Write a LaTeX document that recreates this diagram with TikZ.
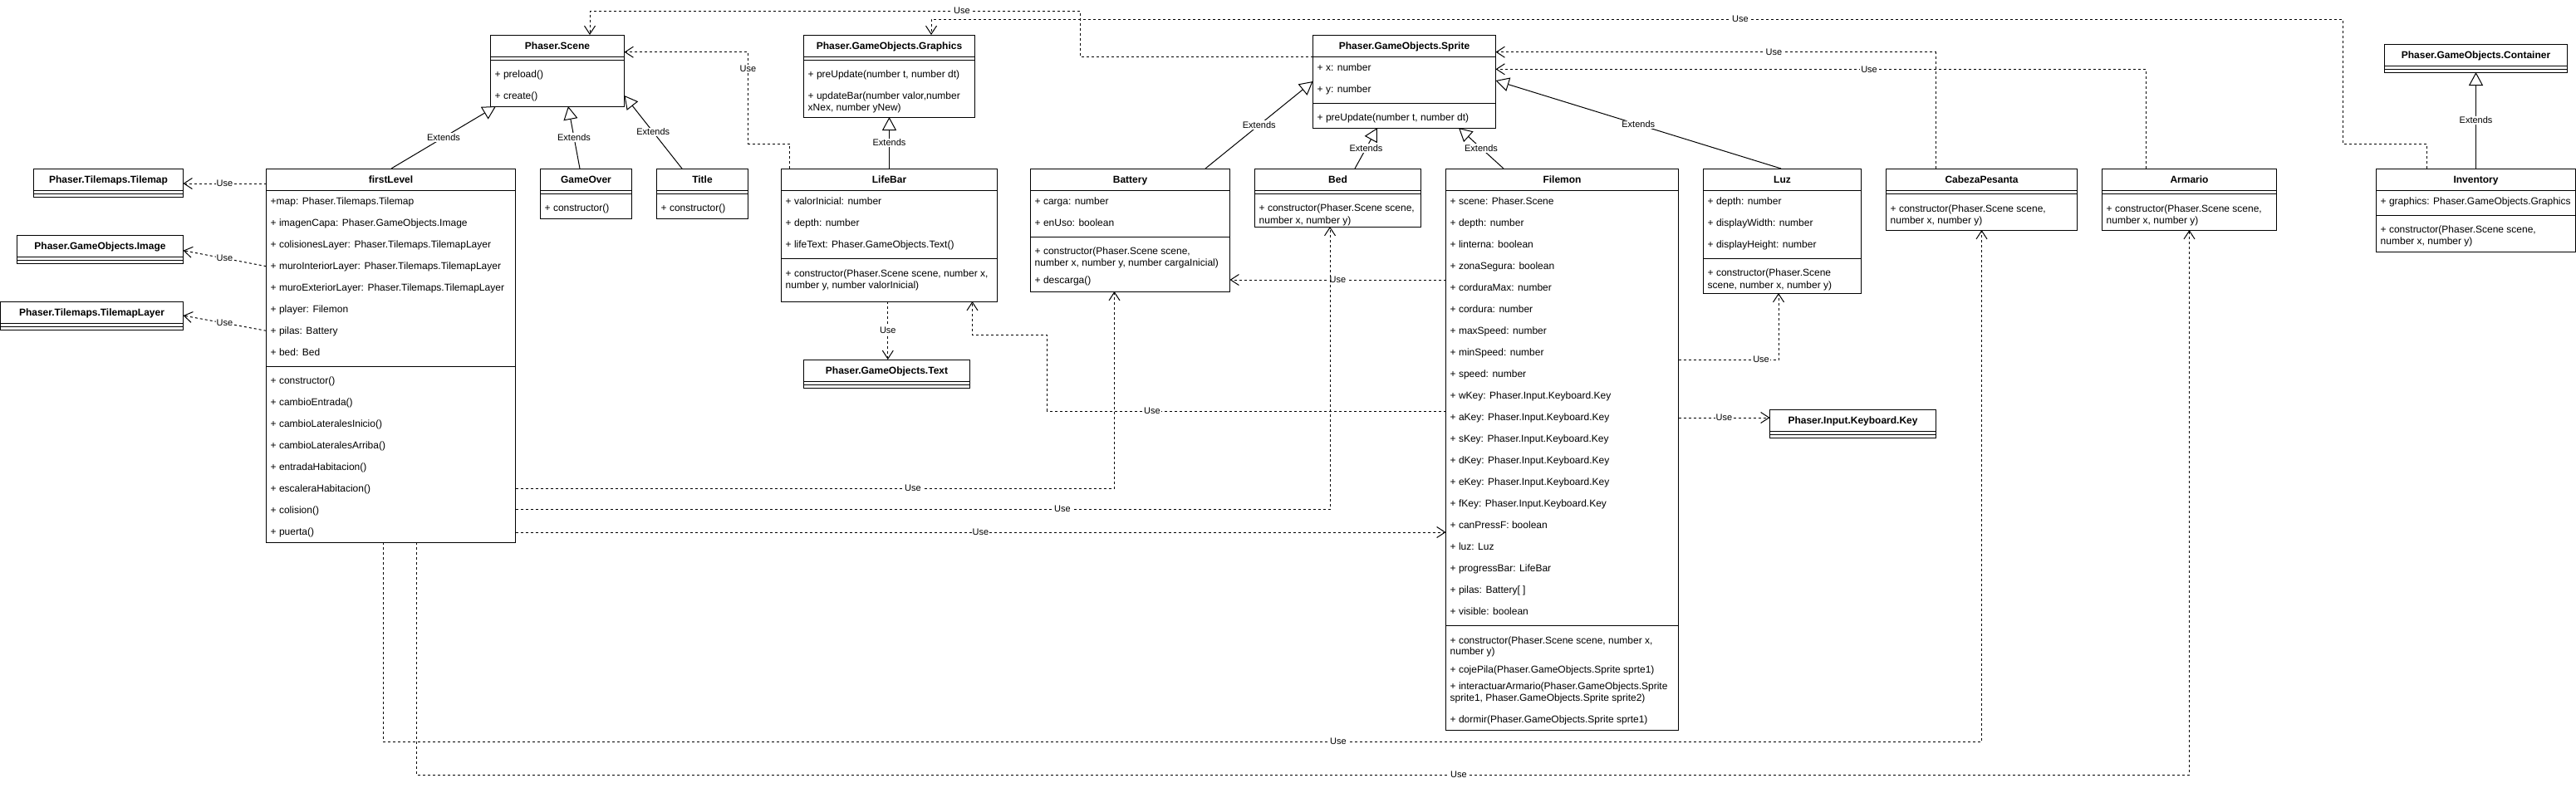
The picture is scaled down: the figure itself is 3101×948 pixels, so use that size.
\documentclass[tikz,border=0pt]{standalone}
\usepackage{fontspec}
\setmainfont{Liberation Sans}
\usetikzlibrary{arrows.meta,calc}
\newcommand\umlcls[5]{\node[box, minimum width=#4pt, minimum height=#5pt] (#1) at (#2,#3) {};}
\newcommand\umlhd[2]{\node[hd] (#1-name) at ($(#1.north)+(0,17)$) {#2};}
\newcommand\umlline[2]{\draw[sepline] ($(#1.north west)+(0,#2)$) -- ($(#1.north east)+(0,#2)$);}
\newcommand\umlrow[4]{\node[attr] (#1) at (#2,#3+4) {#4};}
\begin{document}
\begin{tikzpicture}[x=1pt,y=-1pt,
  box/.style={draw, line width=1pt, rectangle, inner sep=0pt, outer sep=0pt, anchor=north west},
  hd/.style={font=\fontsize{12}{14}\selectfont\bfseries, inner sep=0pt, anchor=base},
  attr/.style={font=\fontsize{12}{14}\selectfont, inner sep=0pt, anchor=base west},
  lbl/.style={font=\fontsize{11}{13}\selectfont, fill=white, inner sep=1pt},
  sepline/.style={line width=1pt},
  use/.style={line width=1pt, dash pattern=on 3pt off 3pt, -{Straight Barb[length=10pt,width=13pt]}},
  ext/.style={line width=1pt, -{Triangle[open,length=16pt,width=17pt,fill=white]}}]
\fill[white] (0,0) rectangle (3101,948);
\useasboundingbox (0,0) rectangle (3101,948);

% ---------- Phaser.Scene
\umlcls{sc}{590.5}{42}{161}{86}
\umlhd{sc}{Phaser.Scene}
\umlline{sc}{26}\umlline{sc}{30}
\umlrow{sc1}{595.5}{89}{+ preload()}
\umlrow{sc2}{595.5}{115}{+ create()}

% ---------- Phaser.GameObjects.Graphics
\umlcls{gr}{967.5}{42}{206}{99}
\umlhd{gr}{Phaser.GameObjects.Graphics}
\umlline{gr}{26}\umlline{gr}{30}
\umlrow{gr1}{972.5}{89}{+ preUpdate(number t, number dt)}
\umlrow{gr2}{972.5}{115}{+ updateBar(number valor,number}
\umlrow{gr3}{972.5}{129}{xNex, number yNew)}

% ---------- Phaser.GameObjects.Sprite
\umlcls{spr}{1580.5}{42}{220}{112}
\umlhd{spr}{Phaser.GameObjects.Sprite}
\umlline{spr}{26}\umlline{spr}{82}
\umlrow{spr1}{1585.5}{81}{+ x: number}
\umlrow{spr2}{1585.5}{107}{+ y: number}
\umlrow{spr3}{1585.5}{141}{+ preUpdate(number t, number dt)}

% ---------- Container
\umlcls{cont}{2870.5}{53}{220}{34}
\umlhd{cont}{Phaser.GameObjects.Container}
\umlline{cont}{26}\umlline{cont}{30}

% ---------- left externals
\umlcls{tm}{40.5}{203}{180}{34}
\umlhd{tm}{Phaser.Tilemaps.Tilemap}
\umlline{tm}{26}\umlline{tm}{30}
\umlcls{img}{20.5}{283}{200}{34}
\umlhd{img}{Phaser.GameObjects.Image}
\umlline{img}{26}\umlline{img}{30}
\umlcls{tml}{0.5}{363}{220}{34}
\umlhd{tml}{Phaser.Tilemaps.TilemapLayer}
\umlline{tml}{26}\umlline{tml}{30}

% ---------- firstLevel
\umlcls{fl}{320.5}{203}{300}{450}
\umlhd{fl}{firstLevel}
\umlline{fl}{26}\umlline{fl}{238}
\foreach \t [count=\i from 0] in {{+map: Phaser.Tilemaps.Tilemap},{+ imagenCapa: Phaser.GameObjects.Image},{+ colisionesLayer: Phaser.Tilemaps.TilemapLayer},{+ muroInteriorLayer: Phaser.Tilemaps.TilemapLayer},{+ muroExteriorLayer: Phaser.Tilemaps.TilemapLayer},{+ player: Filemon},{+ pilas: Battery},{+ bed: Bed}}
  {\node[attr] (fla\i) at (325.5,242.7+26*\i+4) {\t};}
\foreach \t [count=\i from 0] in {{+ constructor()},{+ cambioEntrada()},{+ cambioLateralesInicio()},{+ cambioLateralesArriba()},{+ entradaHabitacion()},{+ escaleraHabitacion()},{+ colision()},{+ puerta()}}
  {\node[attr] (flm\i) at (325.5,458.7+26*\i+4) {\t};}

% ---------- GameOver / Title
\umlcls{go}{650.5}{203}{110}{60}
\umlhd{go}{GameOver}
\umlline{go}{26}\umlline{go}{30}
\umlrow{go1}{655.5}{250.7}{+ constructor()}
\umlcls{ti}{790.5}{203}{110}{60}
\umlhd{ti}{Title}
\umlline{ti}{26}\umlline{ti}{30}
\umlrow{ti1}{795.5}{250.7}{+ constructor()}

% ---------- LifeBar
\umlcls{lb}{940.5}{203}{260}{160}
\umlhd{lb}{LifeBar}
\umlline{lb}{26}\umlline{lb}{108}
\umlrow{lb1}{945.5}{242.7}{+ valorInicial: number}
\umlrow{lb2}{945.5}{268.7}{+ depth: number}
\umlrow{lb3}{945.5}{294.7}{+ lifeText: Phaser.GameObjects.Text()}
\umlrow{lb4}{945.5}{329}{+ constructor(Phaser.Scene scene, number x,}
\umlrow{lb5}{945.5}{343}{number y, number valorInicial)}

% ---------- Text
\umlcls{txt}{967.5}{433}{200}{34}
\umlhd{txt}{Phaser.GameObjects.Text}
\umlline{txt}{26}\umlline{txt}{30}

% ---------- Battery
\umlcls{bat}{1240.5}{203}{240}{148}
\umlhd{bat}{Battery}
\umlline{bat}{26}\umlline{bat}{82}
\umlrow{bat1}{1245.5}{242.7}{+ carga: number}
\umlrow{bat2}{1245.5}{268.7}{+ enUso: boolean}
\umlrow{bat3}{1245.5}{302.7}{+ constructor(Phaser.Scene scene,}
\umlrow{bat4}{1245.5}{316.7}{number x, number y, number cargaInicial)}
\umlrow{bat5}{1245.5}{337.3}{+ descarga()}

% ---------- Bed
\umlcls{bed}{1510.5}{203}{200}{70}
\umlhd{bed}{Bed}
\umlline{bed}{26}\umlline{bed}{30}
\umlrow{bed1}{1515.5}{250.7}{+ constructor(Phaser.Scene scene,}
\umlrow{bed2}{1515.5}{265}{number x, number y)}

% ---------- Filemon
\umlcls{fil}{1740.5}{203}{280}{676}
\umlhd{fil}{Filemon}
\umlline{fil}{26}\umlline{fil}{550}
\foreach \t [count=\i from 0] in {{+ scene: Phaser.Scene},{+ depth: number},{+ linterna: boolean},{+ zonaSegura: boolean},{+ corduraMax: number},{+ cordura: number},{+ maxSpeed: number},{+ minSpeed: number},{+ speed: number},{+ wKey: Phaser.Input.Keyboard.Key},{+ aKey: Phaser.Input.Keyboard.Key},{+ sKey: Phaser.Input.Keyboard.Key},{+ dKey: Phaser.Input.Keyboard.Key},{+ eKey: Phaser.Input.Keyboard.Key},{+ fKey: Phaser.Input.Keyboard.Key},{+ canPressF: boolean},{+ luz: Luz},{+ progressBar: LifeBar},{+ pilas: Battery[ ]},{+ visible: boolean}}
  {\node[attr] (fila\i) at (1745.5,242.7+26*\i+4) {\t};}
\umlrow{film1}{1745.5}{771}{+ constructor(Phaser.Scene scene, number x,}
\umlrow{film2}{1745.5}{784.3}{number y)}
\umlrow{film3}{1745.5}{806.7}{+ cojePila(Phaser.GameObjects.Sprite sprte1)}
\umlrow{film4}{1745.5}{826.7}{+ interactuarArmario(Phaser.GameObjects.Sprite}
\umlrow{film5}{1745.5}{840.7}{sprite1, Phaser.GameObjects.Sprite sprite2)}
\umlrow{film6}{1745.5}{866.7}{+ dormir(Phaser.GameObjects.Sprite sprte1)}

% ---------- Luz
\umlcls{luz}{2050.5}{203}{190}{150}
\umlhd{luz}{Luz}
\umlline{luz}{26}\umlline{luz}{108}
\umlrow{luz1}{2055.5}{242.7}{+ depth: number}
\umlrow{luz2}{2055.5}{268.7}{+ displayWidth: number}
\umlrow{luz3}{2055.5}{294.7}{+ displayHeight: number}
\umlrow{luz4}{2055.5}{328.7}{+ constructor(Phaser.Scene}
\umlrow{luz5}{2055.5}{343}{scene, number x, number y)}

% ---------- Keyboard.Key
\umlcls{key}{2130.5}{493}{200}{34}
\umlhd{key}{Phaser.Input.Keyboard.Key}
\umlline{key}{26}\umlline{key}{30}

% ---------- CabezaPesanta
\umlcls{cab}{2270.5}{203}{230}{74}
\umlhd{cab}{CabezaPesanta}
\umlline{cab}{26}\umlline{cab}{30}
\umlrow{cab1}{2275.5}{251}{+ constructor(Phaser.Scene scene,}
\umlrow{cab2}{2275.5}{265}{number x, number y)}

% ---------- Armario
\umlcls{arm}{2530.5}{203}{210}{74}
\umlhd{arm}{Armario}
\umlline{arm}{26}\umlline{arm}{30}
\umlrow{arm1}{2535.5}{251}{+ constructor(Phaser.Scene scene,}
\umlrow{arm2}{2535.5}{265}{number x, number y)}

% ---------- Inventory
\umlcls{inv}{2860.5}{203}{240}{100}
\umlhd{inv}{Inventory}
\umlline{inv}{26}\umlline{inv}{56}
\umlrow{inv1}{2865.5}{242.7}{+ graphics: Phaser.GameObjects.Graphics}
\umlrow{inv2}{2865.5}{276.7}{+ constructor(Phaser.Scene scene,}
\umlrow{inv3}{2865.5}{290.7}{number x, number y)}

% ---------- Extends
\draw[ext] (fl.north -| 471,0) -- node[lbl]{Extends} (sc.south -| 597,0);
\draw[ext] (go.north -| 698,0) -- node[lbl]{Extends} (sc.south -| 684,0);
\draw[ext] (ti.north -| 821,0) -- node[lbl]{Extends} (sc.east |- 0,115);
\draw[ext] (lb.north -| 1070.5,0) -- node[lbl]{Extends} (gr.south -| 1070.5,0);
\draw[ext] (bat.north -| 1451,0) -- node[lbl]{Extends} (spr.west |- 0,98);
\draw[ext] (bed.north -| 1631,0) -- node[lbl]{Extends} (spr.south -| 1658,0);
\draw[ext] (fil.north -| 1810,0) -- node[lbl]{Extends} (spr.south -| 1756,0);
\draw[ext] (luz.north -| 2144,0) -- node[lbl]{Extends} (spr.east |- 0,97);
\draw[ext] (inv.north -| 2980.5,0) -- node[lbl]{Extends} (cont.south -| 2980.5,0);

% ---------- Use
\draw[use] (fl.west |- 0,221) -- node[lbl]{Use} (tm.east |- 0,221);
\draw[use] (fl.west |- 0,320.7) -- node[lbl]{Use} (img.east |- 0,301.7);
\draw[use] (fl.west |- 0,398.3) -- node[lbl]{Use} (tml.east |- 0,380);
\draw[use] (lb.north -| 950.5,0) -- (950.5,173) -- (900.5,173) -- (900.5,62.7) -- (sc.east |- 0,62.7);
\node[lbl] (u4) at (900.5,83) {Use};
\draw[use] (lb.south -| 1068.8,0) -- node[lbl]{Use} (txt.north -| 1068.8,0);
\draw[use] (spr.west |- 0,68) -- (1300,68) -- (1300,13) -- (710,13) -- (sc.north -| 710,0);
\node[lbl] (u6) at (1158,13) {Use};
\draw[use] (inv.north -| 2921,0) -- (2921,173) -- (2820,173) -- (2820,23) -- (1121,23) -- (gr.north -| 1121,0);
\node[lbl] (u7) at (2095,23) {Use};
\draw[use] (cab.north -| 2330,0) -- (2330,62.7) -- (spr.east |- 0,62.7);
\node[lbl] (u8) at (2135.5,62.7) {Use};
\draw[use] (arm.north -| 2583,0) -- (2583,83.3) -- (spr.east |- 0,83.3);
\node[lbl] (u9) at (2250,83.3) {Use};
\draw[use] (fil.west |- 0,337) -- node[lbl]{Use} (bat.east |- 0,337);
\draw[use] (fil.west |- 0,495) -- (1260.5,495) -- (1260.5,403.3) -- (1170.5,403.3) -- (lb.south -| 1170.5,0);
\node[lbl] (u11) at (1387,495) {Use};
\draw[use] (fil.east |- 0,433) -- (2141,433) -- (luz.south -| 2141,0);
\node[lbl] (u12) at (2120,433) {Use};
\draw[use] (fil.east |- 0,503) -- node[lbl]{Use} (key.west |- 0,503);
\draw[use] (fl.east |- 0,588) -- (1341.5,588) -- (bat.south -| 1341.5,0);
\node[lbl] (u14) at (1099,588) {Use};
\draw[use] (fl.east |- 0,613) -- (1601,613) -- (bed.south -| 1601,0);
\node[lbl] (u15) at (1279,613) {Use};
\draw[use] (fl.east |- 0,641) -- node[lbl]{Use} (fil.west |- 0,641);
\draw[use] (fl.south -| 461,0) -- (461,893) -- (2385.5,893) -- (cab.south -| 2385.5,0);
\node[lbl] (u17) at (1611,893) {Use};
\draw[use] (fl.south -| 501,0) -- (501,933) -- (2635.5,933) -- (arm.south -| 2635.5,0);
\node[lbl] (u18) at (1756,933) {Use};
\end{tikzpicture}
\end{document}
